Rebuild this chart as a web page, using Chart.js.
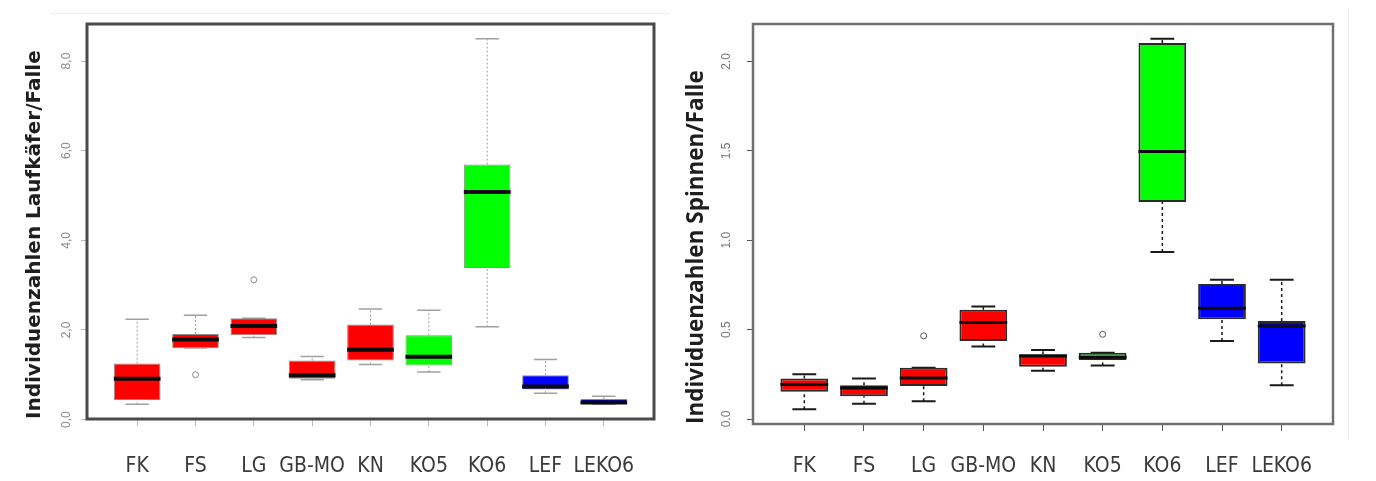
<!DOCTYPE html>
<html>
<head>
<meta charset="utf-8">
<script src="https://cdn.jsdelivr.net/npm/chart.js@4.4.0/dist/chart.umd.min.js"></script>
<style>
  html, body { margin: 0; padding: 0; background: #fff; }
  #wrap { position: relative; width: 1376px; height: 481px; overflow: hidden; }
  canvas { position: absolute; top: 0; }
  #beetles { left: 0; }
  #spiders { left: 676px; }
  .edge { position: absolute; background: #eeeeee; }
</style>
</head>
<body>
<div id="wrap">
  <div class="edge" style="left:50px; top:13px; width:620px; height:1px;"></div>
  <div class="edge" style="left:1348px; top:8px; width:1px; height:432px;"></div>
  <canvas id="beetles" width="690" height="481"></canvas>
  <canvas id="spiders" width="700" height="481"></canvas>
</div>
<script>
// Standorte (gleich für beide Diagramme)
const categories = ['FK', 'FS', 'LG', 'GB-MO', 'KN', 'KO5', 'KO6', 'LEF', 'LEKO6'];

// Laufkäfer / Falle: Whisker, Quartile, Median, Ausreißer
const beetleLow    = [0.34, 1.60, 1.83, 0.89, 1.23, 1.06, 2.07, 0.59, 0.34];
const beetleQ1     = [0.44, 1.60, 1.88, 0.91, 1.32, 1.21, 3.38, 0.67, 0.35];
const beetleMedian = [0.91, 1.79, 2.09, 0.99, 1.56, 1.40, 5.08, 0.74, 0.38];
const beetleQ3     = [1.25, 1.91, 2.26, 1.32, 2.12, 1.88, 5.69, 0.99, 0.46];
const beetleHigh   = [2.24, 2.33, 2.26, 1.41, 2.47, 2.44, 8.50, 1.34, 0.52];
const beetleOutliers = [[], [1.00], [3.12], [], [], [], [], [], []];
const beetleTicks  = [0, 2, 4, 6, 8];

// Spinnen / Falle
const spiderLow    = [0.055, 0.086, 0.099, 0.405, 0.270, 0.300, 0.935, 0.437, 0.189];
const spiderQ1     = [0.152, 0.128, 0.185, 0.437, 0.292, 0.330, 1.214, 0.558, 0.311];
const spiderMedian = [0.193, 0.174, 0.230, 0.540, 0.352, 0.345, 1.497, 0.620, 0.521];
const spiderQ3     = [0.227, 0.189, 0.287, 0.611, 0.362, 0.371, 2.103, 0.755, 0.549];
const spiderHigh   = [0.251, 0.227, 0.287, 0.630, 0.386, 0.371, 2.127, 0.779, 0.779];
const spiderOutliers = [[], [], [0.465], [], [], [0.474], [], [], []];
const spiderTicks  = [0, 0.5, 1, 1.5, 2];

// Farben je Standort
const boxColors = ['#ff0000', '#ff0000', '#ff0000', '#ff0000', '#ff0000', '#00ff00', '#00ff00', '#0000ff', '#0000ff'];

document.addEventListener('DOMContentLoaded', () => {

    // Whisker, Median und Rahmen wie bei R boxplot()
    const boxParts = {
        id: 'boxParts',
        beforeDatasetsDraw(chart, args, o) {
            const { ctx, scales: { x, y } } = chart;
            const bars = chart.getDatasetMeta(0).data;
            ctx.save();
            o.low.forEach((lo, i) => {
                const px = x.getPixelForValue(i + 1);
                const cap = bars[i].width / 4;
                ctx.strokeStyle = o.whiskerColor;
                ctx.lineWidth = o.whiskerWidth;
                ctx.setLineDash(o.whiskerDash);
                ctx.beginPath();
                ctx.moveTo(px, y.getPixelForValue(lo));
                ctx.lineTo(px, y.getPixelForValue(o.q1[i]));
                ctx.moveTo(px, y.getPixelForValue(o.q3[i]));
                ctx.lineTo(px, y.getPixelForValue(o.high[i]));
                ctx.stroke();
                ctx.setLineDash([]);
                ctx.lineWidth = o.capWidth;
                ctx.beginPath();
                [lo, o.high[i]].forEach(v => {
                    const py = y.getPixelForValue(v);
                    ctx.moveTo(px - cap, py);
                    ctx.lineTo(px + cap, py);
                });
                ctx.stroke();
            });
            ctx.restore();
        },
        afterDatasetsDraw(chart, args, o) {
            const { ctx, scales: { y } } = chart;
            const bars = chart.getDatasetMeta(0).data;
            ctx.save();
            ctx.strokeStyle = o.medianColor;
            ctx.lineWidth = o.medianWidth;
            o.median.forEach((m, i) => {
                const py = y.getPixelForValue(m);
                ctx.beginPath();
                ctx.moveTo(bars[i].x - bars[i].width / 2, py);
                ctx.lineTo(bars[i].x + bars[i].width / 2, py);
                ctx.stroke();
            });
            const a = chart.chartArea;
            ctx.strokeStyle = o.frameColor;
            ctx.lineWidth = o.frameWidth;
            ctx.strokeRect(a.left, a.top, a.right - a.left, a.bottom - a.top);
            ctx.restore();
        }
    };

    // Achsenbereich wie in R: Datenbereich +/- 4 %
    const rangeOf = (low, high, outliers) => {
        const all = low.concat(high, outliers.flat());
        const lo = Math.min(...all), hi = Math.max(...all);
        const d = (hi - lo) * 0.04;
        return [lo - d, hi + d];
    };

    const makeBoxChart = (id, s) => {
        const [yMin, yMax] = rangeOf(s.low, s.high, s.outliers);
        const outlierPoints = [];
        s.outliers.forEach((list, i) => list.forEach(v => outlierPoints.push({ x: i + 1, y: v })));

        return new Chart(document.getElementById(id), {
            type: 'bar',
            data: {
                datasets: [{
                    type: 'bar',
                    data: categories.map((c, i) => ({ x: i + 1, y: [s.q1[i], s.q3[i]] })),
                    backgroundColor: boxColors,
                    borderColor: s.boxBorder,
                    borderWidth: s.boxBorderWidth,
                    borderSkipped: false,
                    barPercentage: 0.8,
                    categoryPercentage: 1
                }, {
                    type: 'scatter',
                    data: outlierPoints,
                    pointStyle: 'circle',
                    radius: 3,
                    borderWidth: 1,
                    borderColor: s.outlierColor,
                    backgroundColor: 'rgba(0,0,0,0)'
                }]
            },
            options: {
                responsive: false,
                animation: false,
                events: [],
                layout: { padding: { top: 24, right: s.padRight, left: 0, bottom: 0 } },
                plugins: {
                    legend: { display: false },
                    tooltip: { enabled: false },
                    boxParts: {
                        low: s.low, q1: s.q1, q3: s.q3, high: s.high, median: s.median,
                        whiskerColor: s.whiskerColor, whiskerWidth: s.whiskerWidth, whiskerDash: s.whiskerDash,
                        capWidth: s.capWidth, medianColor: '#0a0a0a', medianWidth: s.medianWidth,
                        frameColor: s.frameColor, frameWidth: s.frameWidth
                    }
                },
                scales: {
                    x: {
                        type: 'linear',
                        offset: false,
                        min: 0.14,
                        max: 9.86,
                        afterBuildTicks: scale => { scale.ticks = categories.map((c, i) => ({ value: i + 1 })); },
                        afterFit: scale => { scale.height = s.xHeight; },
                        border: { display: false },
                        grid: { offset: false, drawOnChartArea: false, tickLength: 7, color: s.tickColor, lineWidth: 1 },
                        ticks: {
                            autoSkip: false,
                            maxRotation: 0,
                            padding: s.xLabelPad,
                            color: '#3a3a3a',
                            font: { family: "'DejaVu Sans Condensed', 'DejaVu Sans', sans-serif", size: 21 },
                            callback: v => categories[v - 1]
                        }
                    },
                    y: {
                        min: yMin,
                        max: yMax,
                        afterBuildTicks: scale => { scale.ticks = s.ticks.map(v => ({ value: v })); },
                        afterFit: scale => { scale.width = s.yWidth; },
                        border: { display: false },
                        grid: { drawOnChartArea: false, tickLength: 6, color: s.tickColor, lineWidth: 1 },
                        ticks: {
                            minRotation: 90,
                            maxRotation: 90,
                            crossAlign: 'center',
                            padding: s.yLabelPad,
                            color: s.tickLabelColor,
                            font: { family: "'Liberation Sans', Arial, sans-serif", size: 12 },
                            callback: s.format
                        },
                        title: {
                            display: true,
                            text: s.title,
                            align: 'start',
                            color: '#1e1e1e',
                            padding: { top: s.titlePad, bottom: 0 },
                            font: s.titleFont
                        }
                    }
                }
            },
            plugins: [boxParts]
        });
    };

    makeBoxChart('beetles', {
        low: beetleLow, q1: beetleQ1, median: beetleMedian, q3: beetleQ3, high: beetleHigh,
        outliers: beetleOutliers, ticks: beetleTicks,
        format: v => v.toFixed(1).replace('.', ','),
        title: 'Individuenzahlen Laufkäfer/Falle',
        titleFont: { family: "'DejaVu Sans', sans-serif", weight: 'bold', size: 20 },
        titlePad: 23,
        boxBorder: '#8c8c8c', boxBorderWidth: 1,
        whiskerColor: '#a0a0a0', whiskerWidth: 1, whiskerDash: [2, 2], capWidth: 1.5,
        medianWidth: 4, outlierColor: '#8c8c8c',
        frameColor: '#4a4a4a', frameWidth: 3,
        tickColor: '#bdbdbd', tickLabelColor: '#8a8a8a',
        yWidth: 87, padRight: 36, xHeight: 62, xLabelPad: 28, yLabelPad: 6
    });

    makeBoxChart('spiders', {
        low: spiderLow, q1: spiderQ1, median: spiderMedian, q3: spiderQ3, high: spiderHigh,
        outliers: spiderOutliers, ticks: spiderTicks,
        format: v => v.toFixed(1),
        title: 'Individuenzahlen Spinnen/Falle',
        titleFont: { family: "'Open Sans', sans-serif", weight: 'bold', size: 22.5 },
        titlePad: 7,
        boxBorder: '#2a2a2a', boxBorderWidth: 2,
        whiskerColor: '#1a1a1a', whiskerWidth: 1.5, whiskerDash: [3, 3], capWidth: 2,
        medianWidth: 3, outlierColor: '#555555',
        frameColor: '#707070', frameWidth: 2.5,
        tickColor: '#555555', tickLabelColor: '#777777',
        yWidth: 77, padRight: 43, xHeight: 57, xLabelPad: 23, yLabelPad: 12
    });
});
</script>
</body>
</html>
